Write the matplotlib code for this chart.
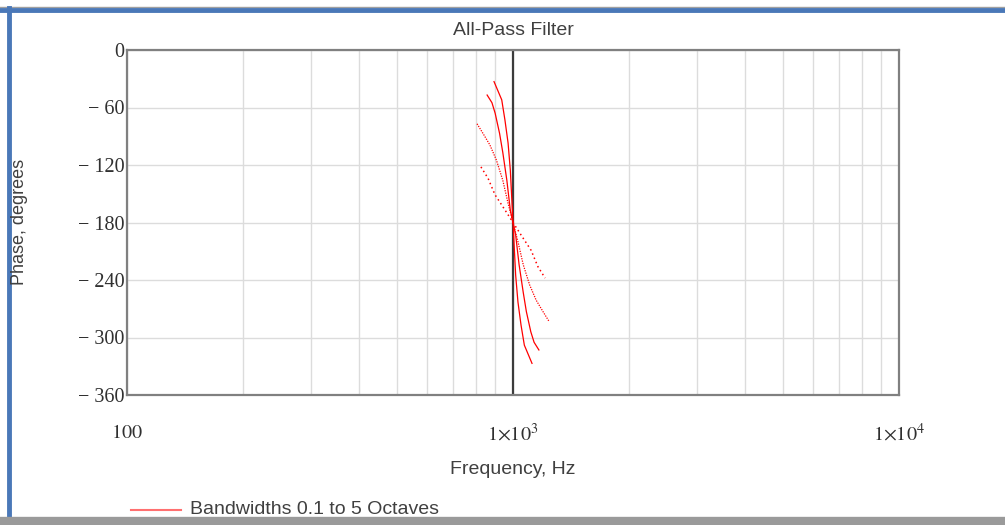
import matplotlib
matplotlib.use("Agg")
import matplotlib.pyplot as plt
from matplotlib.lines import Line2D
from matplotlib.ticker import FixedLocator, LogLocator, NullFormatter

# phase curves (Hz, degrees)
freq_1 = [893, 935, 953, 971, 984, 1000, 1016, 1030, 1049, 1070, 1120]
phase_1 = [-33, -52, -73, -97, -125, -180, -235, -263, -287, -308, -327]

freq_2 = [857, 882, 899, 923, 941, 964, 984, 1000, 1016, 1037, 1063, 1083, 1112, 1134, 1167]
phase_2 = [-47, -55, -66, -87, -107, -136, -167, -180, -193, -224, -253, -273, -294, -305, -313]

freq_3 = [807, 836, 871, 906, 941, 971, 1000, 1030, 1063, 1104, 1148, 1196, 1239]
phase_3 = [-77, -87, -99, -115, -136, -160, -180, -200, -224, -245, -261, -273, -283]

freq_4 = [826, 862, 898, 950, 1000, 1053, 1114, 1160, 1211]
phase_4 = [-122, -134, -151, -166, -180, -194, -209, -226, -238]

yticks = [0, -60, -120, -180, -240, -300, -360]
ytick_labels = ["0", "\u2212 60", "\u2212 120", "\u2212 180", "\u2212 240", "\u2212 300", "\u2212 360"]
xticks = [100, 1000, 10000]
xtick_labels = [r"$100$", r"$1{\times}10^{3}$", r"$1{\times}10^{4}$"]

plt.rcParams["mathtext.fontset"] = "stix"

fig = plt.figure(figsize=(10.05, 5.25), dpi=100)
ax = fig.add_axes([127 / 1005, 1 - 395 / 525, 772 / 1005, 345 / 525])

red = "#ff0000"
ax.plot(freq_1, phase_1, color=red, lw=0.9)
ax.plot(freq_2, phase_2, color=red, lw=0.9)
ax.plot(freq_3, phase_3, color=red, lw=0.9, ls=(0, (1, 1)))
ax.plot(freq_4, phase_4, color=red, lw=1.1, ls=(0, (1, 2)))

ax.axvline(1000, color="#3c3c3c", lw=1.6, zorder=1)

ax.set_xscale("log")
ax.set_xlim(100, 10000)
ax.set_ylim(-360, 0)

ax.xaxis.set_major_locator(FixedLocator(xticks))
ax.set_xticklabels(xtick_labels)
ax.xaxis.set_minor_locator(LogLocator(base=10, subs=range(2, 10)))
ax.xaxis.set_minor_formatter(NullFormatter())
ax.set_yticks(yticks)
ax.set_yticklabels(ytick_labels, family="Liberation Serif")

ax.grid(True, which="both", color="#dcdcdc", lw=1.0, zorder=0)
ax.set_axisbelow(True)
ax.tick_params(which="both", length=0)
ax.tick_params(axis="x", pad=20, labelsize=14.5, labelcolor="#303030")
ax.tick_params(axis="y", pad=2, labelsize=14.5, labelcolor="#303030")
for s in ax.spines.values():
    s.set_color("#808080")
    s.set_linewidth(1.6)

sans = "Liberation Sans"
ax.set_title("All-Pass Filter", family=sans, fontsize=14, color="#404040", pad=11)
fig.text(20 / 1005, 1 - 222 / 525, "Phase, degrees", rotation=90, family=sans,
         fontsize=13, color="#404040", ha="center", va="center")
fig.text(513 / 1005, 1 - 470 / 525, "Frequency, Hz", family=sans, fontsize=14,
         color="#404040", ha="center", va="center")

# legend
fig.add_artist(Line2D([131 / 1005, 181 / 1005], [1 - 510 / 525] * 2,
                      color="#ff7070", lw=1.5))
fig.text(190 / 1005, 1 - 510 / 525, "Bandwidths 0.1 to 5 Octaves", family=sans,
         fontsize=14, color="#404040", ha="left", va="center")

# worksheet frame
fig.add_artist(Line2D([0, 1], [1 - 7 / 525] * 2, color="#a0a0a0", lw=1))
fig.add_artist(Line2D([0, 1], [1 - 10 / 525] * 2, color="#4a78b8", lw=3.5))
fig.add_artist(Line2D([9 / 1005] * 2, [0, 1 - 8 / 525], color="#4a78b8", lw=3.5))
fig.add_artist(Line2D([0, 1], [1 - 521 / 525] * 2, color="#9a9a9a", lw=6))

fig.savefig("out.png", dpi=100)
